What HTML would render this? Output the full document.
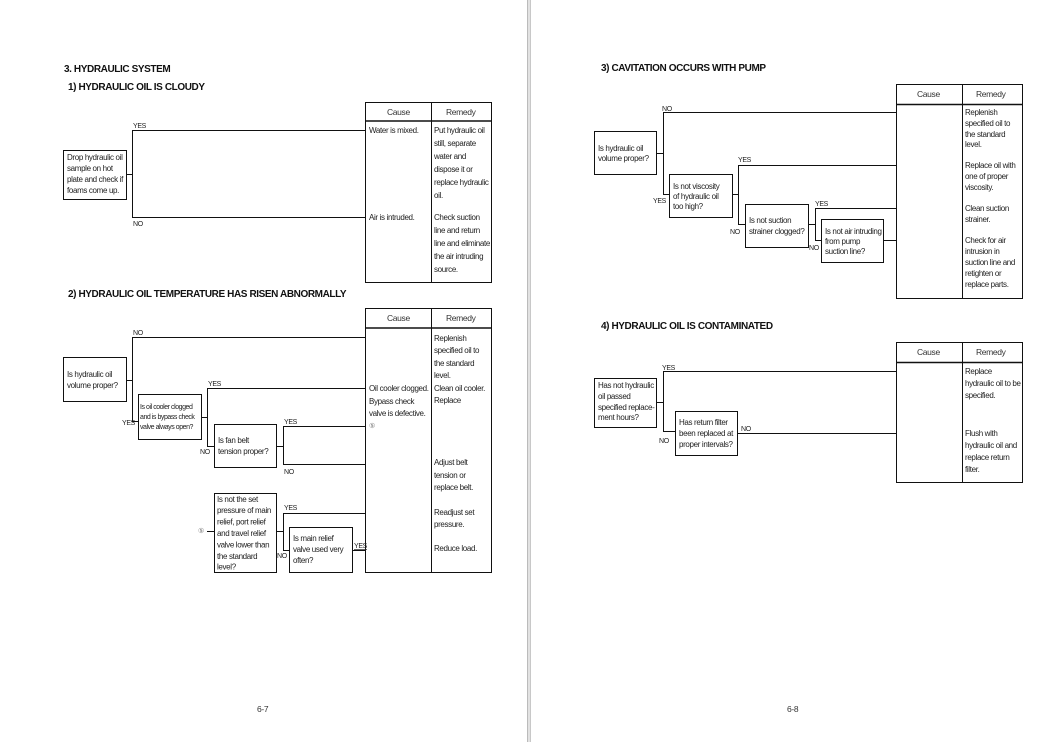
<!DOCTYPE html>
<html><head><meta charset="utf-8"><style>
html,body{margin:0;padding:0;background:#fff}
svg{display:block}
text{font-family:"Liberation Sans",Arial,sans-serif;font-size:8px;letter-spacing:-0.35px;fill:#222}
.t{font-size:10px;font-weight:bold;letter-spacing:-0.4px;fill:#111}
.s{font-size:7px}
.n{font-size:7px;letter-spacing:-0.45px}
.h{font-size:8.5px;fill:#333}
line,rect{stroke:#111;stroke-width:1;fill:none}
</style></head><body>
<svg width="1056" height="742" viewBox="0 0 1056 742">
<rect x="0" y="0" width="1056" height="742" style="fill:#fff;stroke:none"/>
<rect x="527" y="0" width="4" height="742" style="fill:#e2e2e2;stroke:none"/>
<line x1="527.5" y1="0" x2="527.5" y2="742" style="stroke:#bbb"/>
<line x1="530.5" y1="0" x2="530.5" y2="742" style="stroke:#c8c8c8"/>

<!-- Section 1 -->
<text class="t" x="64" y="72">3. HYDRAULIC SYSTEM</text>
<text class="t" x="68" y="90">1) HYDRAULIC OIL IS CLOUDY</text>
<rect x="365.5" y="102.5" width="126" height="180"/>
<line x1="365" y1="121" x2="492" y2="121" style="stroke-width:1.5"/>
<line x1="431.5" y1="102" x2="431.5" y2="283"/>
<text class="h" x="387" y="115">Cause</text>
<text class="h" x="446" y="115">Remedy</text>
<rect x="63.5" y="150.5" width="63" height="49"/>
<text x="67" y="160">Drop hydraulic oil</text>
<text x="67" y="171">sample on hot</text>
<text x="67" y="182">plate and check if</text>
<text x="67" y="193">foams come up.</text>
<line x1="127" y1="174.5" x2="132.5" y2="174.5"/>
<line x1="132.5" y1="130" x2="132.5" y2="218"/>
<line x1="132" y1="130.5" x2="365" y2="130.5"/>
<line x1="132" y1="217.5" x2="365" y2="217.5"/>
<text class="s" x="133" y="128">YES</text>
<text class="s" x="133" y="226">NO</text>
<text x="369" y="133">Water is mixed.</text>
<text x="369" y="220">Air is intruded.</text>
<text x="434" y="133">Put hydraulic oil</text>
<text x="434" y="146">still, separate</text>
<text x="434" y="159">water and</text>
<text x="434" y="172">dispose it or</text>
<text x="434" y="185">replace hydraulic</text>
<text x="434" y="198">oil.</text>
<text x="434" y="220">Check suction</text>
<text x="434" y="233">line and return</text>
<text x="434" y="246">line and eliminate</text>
<text x="434" y="259">the air intruding</text>
<text x="434" y="272">source.</text>

<!-- Section 2 -->
<text class="t" x="68" y="297">2) HYDRAULIC OIL TEMPERATURE HAS RISEN ABNORMALLY</text>
<rect x="365.5" y="308.5" width="126" height="264"/>
<line x1="365" y1="328" x2="492" y2="328" style="stroke-width:1.5"/>
<line x1="431.5" y1="308" x2="431.5" y2="573"/>
<text class="h" x="387" y="321">Cause</text>
<text class="h" x="446" y="321">Remedy</text>
<rect x="63.5" y="357.5" width="63" height="44"/>
<text x="67" y="377">Is hydraulic oil</text>
<text x="67" y="388">volume proper?</text>
<line x1="127" y1="380.5" x2="132.5" y2="380.5"/>
<line x1="132.5" y1="337" x2="132.5" y2="422"/>
<line x1="132" y1="337.5" x2="365" y2="337.5"/>
<line x1="132" y1="421.5" x2="138" y2="421.5"/>
<text class="s" x="133" y="335">NO</text>
<text class="s" x="122" y="425">YES</text>
<rect x="138.5" y="394.5" width="63" height="45"/>
<text class="n" x="140" y="409">Is oil cooler clogged</text>
<text class="n" x="140" y="419">and is bypass check</text>
<text class="n" x="140" y="429">valve always open?</text>
<line x1="202" y1="417.5" x2="207.5" y2="417.5"/>
<line x1="207.5" y1="388" x2="207.5" y2="447"/>
<line x1="207" y1="388.5" x2="365" y2="388.5"/>
<line x1="207" y1="446.5" x2="214" y2="446.5"/>
<text class="s" x="208" y="386">YES</text>
<text class="s" x="200" y="454">NO</text>
<rect x="214.5" y="424.5" width="62" height="43"/>
<text x="218" y="443">Is fan belt</text>
<text x="218" y="454">tension proper?</text>
<line x1="277" y1="446.5" x2="283.5" y2="446.5"/>
<line x1="283.5" y1="426" x2="283.5" y2="465"/>
<line x1="283" y1="426.5" x2="365" y2="426.5"/>
<line x1="283" y1="464.5" x2="365" y2="464.5"/>
<text class="s" x="284" y="424">YES</text>
<text class="s" x="284" y="474">NO</text>
<rect x="214.5" y="493.5" width="62" height="79"/>
<text x="217" y="502">Is not the set</text>
<text x="217" y="513">pressure of main</text>
<text x="217" y="524.5">relief, port relief</text>
<text x="217" y="536">and travel relief</text>
<text x="217" y="547.5">valve lower than</text>
<text x="217" y="559">the standard</text>
<text x="217" y="569.5">level?</text>
<text class="s" x="198" y="533" style="fill:#777">⑤</text>
<line x1="207" y1="531.5" x2="214" y2="531.5"/>
<line x1="277" y1="531.5" x2="283.5" y2="531.5"/>
<line x1="283.5" y1="513" x2="283.5" y2="551"/>
<line x1="283" y1="513.5" x2="365" y2="513.5"/>
<line x1="283" y1="550.5" x2="289" y2="550.5"/>
<text class="s" x="284" y="510">YES</text>
<text class="s" x="277" y="558">NO</text>
<rect x="289.5" y="527.5" width="63" height="45"/>
<text x="293" y="541">Is main relief</text>
<text x="293" y="552">valve used very</text>
<text x="293" y="563">often?</text>
<line x1="353" y1="550.5" x2="365" y2="550.5"/>
<text class="s" x="354" y="548" style="text-decoration:underline">YES</text>
<text x="369" y="391">Oil cooler clogged.</text>
<text x="369" y="404">Bypass check</text>
<text x="369" y="416">valve is defective.</text>
<text class="s" x="369" y="428" style="fill:#777">⑤</text>
<text x="434" y="341">Replenish</text>
<text x="434" y="353">specified oil to</text>
<text x="434" y="366">the standard</text>
<text x="434" y="378">level.</text>
<text x="434" y="391">Clean oil cooler.</text>
<text x="434" y="403">Replace</text>
<text x="434" y="465">Adjust belt</text>
<text x="434" y="478">tension or</text>
<text x="434" y="490">replace belt.</text>
<text x="434" y="515">Readjust set</text>
<text x="434" y="527">pressure.</text>
<text x="434" y="551">Reduce load.</text>

<text class="h" x="257" y="712">6-7</text>

<!-- Section 3 -->
<text class="t" x="601" y="71">3) CAVITATION OCCURS WITH PUMP</text>
<rect x="896.5" y="84.5" width="126" height="214"/>
<line x1="896" y1="104.5" x2="1023" y2="104.5" style="stroke-width:1.5"/>
<line x1="962.5" y1="84" x2="962.5" y2="299"/>
<text class="h" x="917" y="97">Cause</text>
<text class="h" x="976" y="97">Remedy</text>
<rect x="594.5" y="131.5" width="62" height="43"/>
<text x="598" y="151">Is hydraulic oil</text>
<text x="598" y="161">volume proper?</text>
<line x1="657" y1="153.5" x2="663.5" y2="153.5"/>
<line x1="663.5" y1="112" x2="663.5" y2="195"/>
<line x1="663" y1="112.5" x2="896" y2="112.5"/>
<line x1="663" y1="194.5" x2="669" y2="194.5"/>
<text class="s" x="662" y="111">NO</text>
<text class="s" x="653" y="203">YES</text>
<rect x="669.5" y="174.5" width="63" height="43"/>
<text x="673" y="189">Is not viscosity</text>
<text x="673" y="199">of hydraulic oil</text>
<text x="673" y="209">too high?</text>
<line x1="733" y1="194.5" x2="738.5" y2="194.5"/>
<line x1="738.5" y1="165" x2="738.5" y2="225"/>
<line x1="738" y1="165.5" x2="896" y2="165.5"/>
<line x1="738" y1="224.5" x2="745" y2="224.5"/>
<text class="s" x="738" y="162">YES</text>
<text class="s" x="730" y="234">NO</text>
<rect x="745.5" y="204.5" width="63" height="43"/>
<text x="749" y="223">Is not suction</text>
<text x="749" y="234">strainer clogged?</text>
<line x1="809" y1="224.5" x2="815.5" y2="224.5"/>
<line x1="815.5" y1="208" x2="815.5" y2="241"/>
<line x1="815" y1="208.5" x2="896" y2="208.5"/>
<line x1="815" y1="240.5" x2="821" y2="240.5"/>
<text class="s" x="815" y="206">YES</text>
<text class="s" x="809" y="250">NO</text>
<rect x="821.5" y="219.5" width="62" height="43"/>
<text x="825" y="234">Is not air intruding</text>
<text x="825" y="244">from pump</text>
<text x="825" y="254">suction line?</text>
<line x1="884" y1="240.5" x2="896" y2="240.5"/>
<text x="965" y="115">Replenish</text>
<text x="965" y="126">specified oil to</text>
<text x="965" y="137">the standard</text>
<text x="965" y="147">level.</text>
<text x="965" y="168">Replace oil with</text>
<text x="965" y="179">one of proper</text>
<text x="965" y="190">viscosity.</text>
<text x="965" y="211">Clean suction</text>
<text x="965" y="222">strainer.</text>
<text x="965" y="243">Check for air</text>
<text x="965" y="254">intrusion in</text>
<text x="965" y="265">suction line and</text>
<text x="965" y="276">retighten or</text>
<text x="965" y="287">replace parts.</text>

<!-- Section 4 -->
<text class="t" x="601" y="329">4) HYDRAULIC OIL IS CONTAMINATED</text>
<rect x="896.5" y="342.5" width="126" height="140"/>
<line x1="896" y1="362.5" x2="1023" y2="362.5" style="stroke-width:1.5"/>
<line x1="962.5" y1="342" x2="962.5" y2="483"/>
<text class="h" x="917" y="355">Cause</text>
<text class="h" x="976" y="355">Remedy</text>
<rect x="594.5" y="378.5" width="62" height="49"/>
<text x="598" y="388">Has not hydraulic</text>
<text x="598" y="399">oil passed</text>
<text x="598" y="410">specified replace-</text>
<text x="598" y="420">ment hours?</text>
<line x1="657" y1="402.5" x2="663.5" y2="402.5"/>
<line x1="663.5" y1="371" x2="663.5" y2="432"/>
<line x1="663" y1="371.5" x2="896" y2="371.5"/>
<line x1="663" y1="431.5" x2="675" y2="431.5"/>
<text class="s" x="662" y="370">YES</text>
<text class="s" x="659" y="443">NO</text>
<rect x="675.5" y="411.5" width="62" height="44"/>
<text x="679" y="425">Has return filter</text>
<text x="679" y="436">been replaced at</text>
<text x="679" y="447">proper intervals?</text>
<line x1="738" y1="433.5" x2="896" y2="433.5"/>
<text class="s" x="741" y="431">NO</text>
<text x="965" y="374">Replace</text>
<text x="965" y="386">hydraulic oil to be</text>
<text x="965" y="398">specified.</text>
<text x="965" y="436">Flush with</text>
<text x="965" y="448">hydraulic oil and</text>
<text x="965" y="460">replace return</text>
<text x="965" y="472">filter.</text>

<text class="h" x="787" y="712">6-8</text>
</svg>
</body></html>
